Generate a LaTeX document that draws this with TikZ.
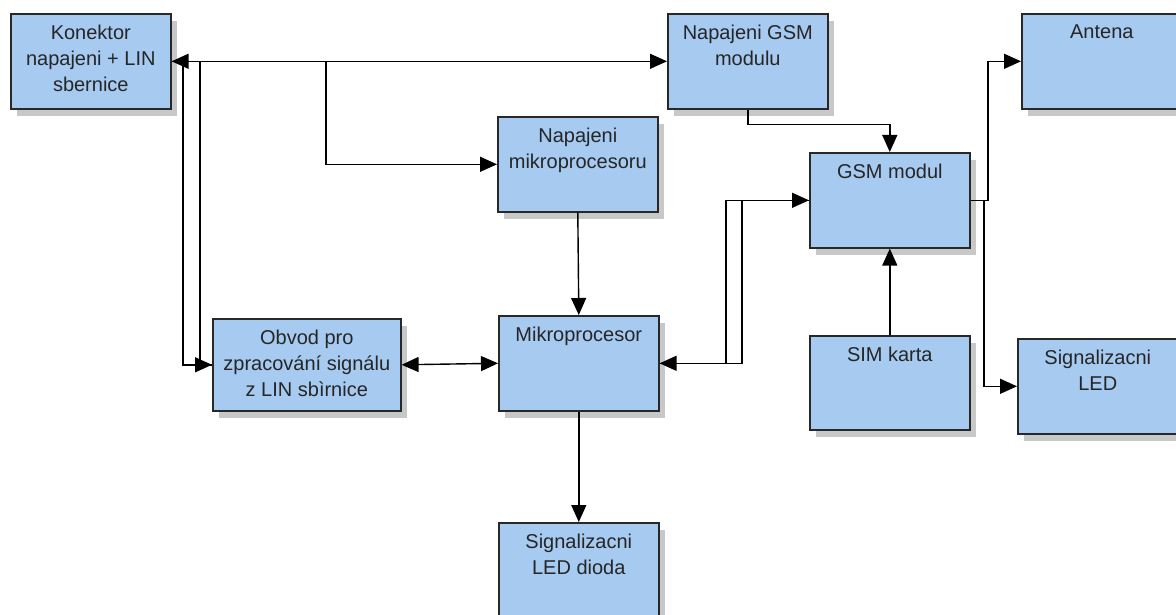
\documentclass[tikz,border=0pt]{standalone}
\usepackage{fontspec}
\setmainfont{Liberation Sans}
\usetikzlibrary{arrows.meta,shadows}
\definecolor{blkfill}{RGB}{166,202,240}
\definecolor{blkline}{RGB}{40,40,40}
\definecolor{shadowgray}{RGB}{200,200,200}
\tikzset{
  blk/.style={draw=blkline, line width=1.6pt, fill=blkfill, anchor=north west,
    inner sep=0pt, minimum width=160pt, minimum height=95pt,
    drop shadow={shadow xshift=6pt, shadow yshift=-7pt, fill=shadowgray, opacity=1}},
  lbl/.style={anchor=north, align=center, inner sep=0pt, yshift=-12pt,
    text=black!85, font=\fontsize{20}{26}\selectfont},
  arr/.style={line width=1.4pt, -{Triangle[length=17pt,width=15pt]}},
  arrs/.style={line width=1.4pt, {Triangle[length=17pt,width=15pt]}-{Triangle[length=17pt,width=15pt]}}
}
\begin{document}
\begin{tikzpicture}[x=1pt,y=-1pt]
    \useasboundingbox (0,0) rectangle (1176,615);
    \clip (0,0) rectangle (1176,615);
    % bloky
    \node[blk] (konektor) at (10,13) {};
    \node[blk] (napgsm) at (667,13) {};
    \node[blk] (antena) at (1021,13) {};
    \node[blk] (napmik) at (497,116) {};
    \node[blk] (gsm) at (809,152) {};
    \node[blk, minimum width=188pt, minimum height=92pt] (obvod) at (212,318) {};
    \node[blk] (mikro) at (498,315) {};
    \node[blk, minimum height=94pt] (sim) at (809,335) {};
    \node[blk] (led) at (1017,338) {};
    \node[blk] (dioda) at (498,522) {};
    % texty
    \node[lbl] (konektor-t) at (konektor.north) {Konektor\\napajeni + LIN\\sbernice};
    \node[lbl] (napgsm-t) at (napgsm.north) {Napajeni GSM\\modulu};
    \node[lbl] (antena-t) at (antena.north) {Antena};
    \node[lbl] (napmik-t) at (napmik.north) {Napajeni\\mikroprocesoru};
    \node[lbl] (gsm-t) at (gsm.north) {GSM modul};
    \node[lbl] (obvod-t) at (obvod.north) {Obvod pro\\zpracování signálu\\z LIN sbìrnice};
    \node[lbl] (mikro-t) at (mikro.north) {Mikroprocesor};
    \node[lbl] (sim-t) at (sim.north) {SIM karta};
    \node[lbl] (led-t) at (led.north) {Signalizacni\\LED};
    \node[lbl] (dioda-t) at (dioda.north) {Signalizacni\\LED dioda};
    % odbocky
    \coordinate (jl) at (183,0);
    \coordinate (jr) at (200,0);
    \coordinate (jm) at (326,0);
    \coordinate (ja) at (726,0);
    \coordinate (jb) at (742,0);
    \coordinate (jc) at (988,0);
    \coordinate (jd) at (984,0);
    % spoje
    \draw[arr] (konektor.east) -- (napgsm.west);
    \draw[arr] (obvod.west) -- (obvod.west -| jl) -- (konektor.east -| jl) -- (konektor.east);
    \draw[arr] (konektor.east) -- (konektor.east -| jr) -- (obvod.west -| jr) -- (obvod.west);
    \draw[arr] (konektor.east -| jm) |- (napmik.west);
    \draw[arr] (napgsm.south) -- ++(0,15) -| (gsm.north);
    \draw[arr] (napmik.south) -- (mikro.north);
    \draw[arrs] (obvod.east) -- (mikro.west);
    \draw[arr] (gsm.west) -- (gsm.west -| ja) -- (mikro.east -| ja) -- (mikro.east);
    \draw[arr] (mikro.east) -- (mikro.east -| jb) -- (gsm.west -| jb) -- (gsm.west);
    \draw[arr] (sim.north) -- (gsm.south);
    \draw[arr] (gsm.east) -- (gsm.east -| jc) -- (antena.west -| jc) -- (antena.west);
    \draw[arr] (gsm.east) -- (gsm.east -| jd) -- (led.west -| jd) -- (led.west);
    \draw[arr] (mikro.south) -- (dioda.north);
\end{tikzpicture}
\end{document}
